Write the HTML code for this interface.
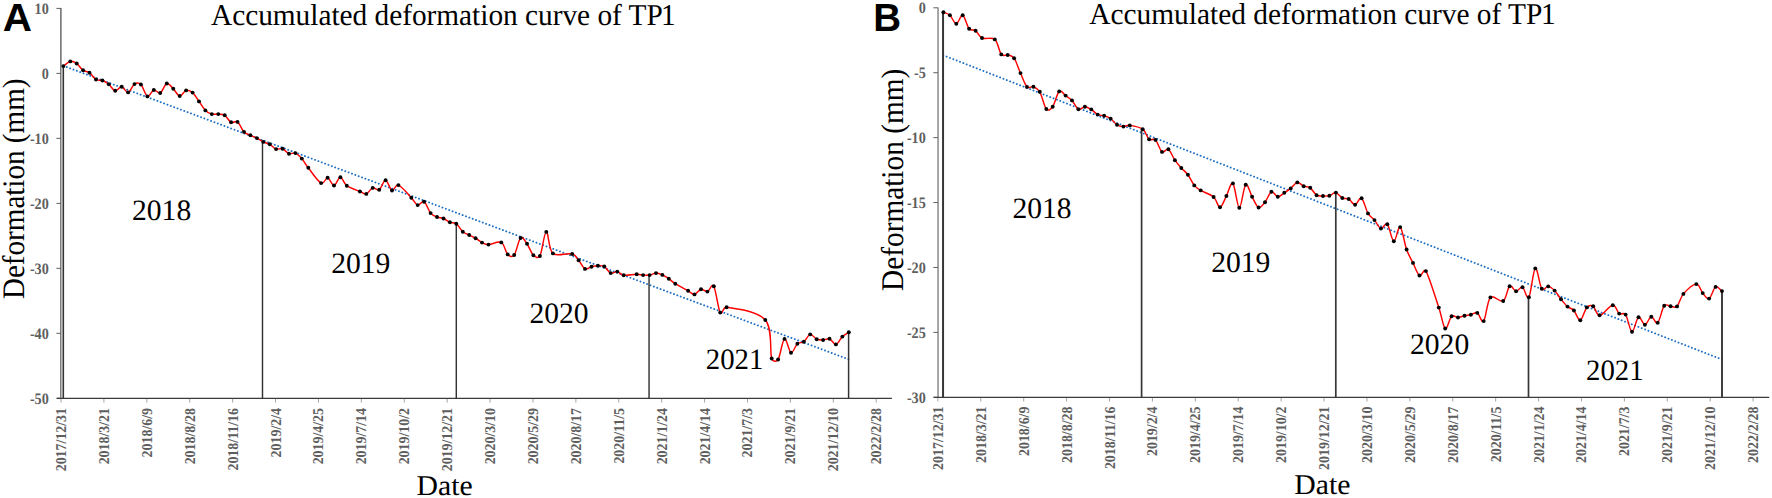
<!DOCTYPE html>
<html><head><meta charset="utf-8"><title>Accumulated deformation curve of TP1</title>
<style>
html,body{margin:0;padding:0;background:#fff;}
svg{display:block}
text{font-family:"Liberation Serif",serif;fill:#000;text-rendering:geometricPrecision}
.yl,.xl{font-weight:bold;fill:#5e5e5e}
.yr{font-size:29.6px}
.ti{font-size:30.2px}
.da{font-size:28.6px}
.pl{font-family:"Liberation Sans",sans-serif;font-weight:bold;font-size:39.3px}
</style></head><body>
<svg width="1772" height="498" viewBox="0 0 1772 498">
<rect width="1772" height="498" fill="#fff"/>
<line x1="60.65" y1="8.0" x2="60.65" y2="398.3" stroke="#7d7d7d" stroke-width="1.3"/>
<rect x="61.2" y="8.0" width="0.7" height="59.5" fill="#8a8a8a"/>
<rect x="61.2" y="67.5" width="1.5999999999999943" height="330.8" fill="#b4b4b4"/>
<line x1="56.4" y1="8.40" x2="61.0" y2="8.40" stroke="#606060" stroke-width="1"/>
<text class="yl" transform="translate(48.8,8.50) scale(1,1.12)" y="4.80" font-size="14.2" text-anchor="end">10</text>
<line x1="56.4" y1="73.38" x2="61.0" y2="73.38" stroke="#606060" stroke-width="1"/>
<text class="yl" transform="translate(48.8,73.48) scale(1,1.12)" y="4.80" font-size="14.2" text-anchor="end">0</text>
<line x1="56.4" y1="138.37" x2="61.0" y2="138.37" stroke="#606060" stroke-width="1"/>
<text class="yl" transform="translate(48.8,138.47) scale(1,1.12)" y="4.80" font-size="14.2" text-anchor="end">-10</text>
<line x1="56.4" y1="203.35" x2="61.0" y2="203.35" stroke="#606060" stroke-width="1"/>
<text class="yl" transform="translate(48.8,203.45) scale(1,1.12)" y="4.80" font-size="14.2" text-anchor="end">-20</text>
<line x1="56.4" y1="268.33" x2="61.0" y2="268.33" stroke="#606060" stroke-width="1"/>
<text class="yl" transform="translate(48.8,268.43) scale(1,1.12)" y="4.80" font-size="14.2" text-anchor="end">-30</text>
<line x1="56.4" y1="333.32" x2="61.0" y2="333.32" stroke="#606060" stroke-width="1"/>
<text class="yl" transform="translate(48.8,333.42) scale(1,1.12)" y="4.80" font-size="14.2" text-anchor="end">-40</text>
<line x1="56.4" y1="398.30" x2="61.0" y2="398.30" stroke="#606060" stroke-width="1"/>
<text class="yl" transform="translate(48.8,398.40) scale(1,1.12)" y="4.80" font-size="14.2" text-anchor="end">-50</text>
<line x1="56.8" y1="398.35" x2="891.9" y2="398.35" stroke="#3a3a3a" stroke-width="1.4"/>
<line x1="61.00" y1="398.90000000000003" x2="61.00" y2="402.5" stroke="#999999" stroke-width="0.9"/>
<text class="xl" transform="translate(66.00,408.0) rotate(-90) scale(1,1.08)" font-size="13.9" text-anchor="end">2017/12/31</text>
<line x1="103.91" y1="398.90000000000003" x2="103.91" y2="402.5" stroke="#999999" stroke-width="0.9"/>
<text class="xl" transform="translate(108.91,408.0) rotate(-90) scale(1,1.08)" font-size="13.9" text-anchor="end">2018/3/21</text>
<line x1="146.81" y1="398.90000000000003" x2="146.81" y2="402.5" stroke="#999999" stroke-width="0.9"/>
<text class="xl" transform="translate(151.81,408.0) rotate(-90) scale(1,1.08)" font-size="13.9" text-anchor="end">2018/6/9</text>
<line x1="189.72" y1="398.90000000000003" x2="189.72" y2="402.5" stroke="#999999" stroke-width="0.9"/>
<text class="xl" transform="translate(194.72,408.0) rotate(-90) scale(1,1.08)" font-size="13.9" text-anchor="end">2018/8/28</text>
<line x1="232.62" y1="398.90000000000003" x2="232.62" y2="402.5" stroke="#999999" stroke-width="0.9"/>
<text class="xl" transform="translate(237.62,408.0) rotate(-90) scale(1,1.08)" font-size="13.9" text-anchor="end">2018/11/16</text>
<line x1="275.52" y1="398.90000000000003" x2="275.52" y2="402.5" stroke="#999999" stroke-width="0.9"/>
<text class="xl" transform="translate(280.52,408.0) rotate(-90) scale(1,1.08)" font-size="13.9" text-anchor="end">2019/2/4</text>
<line x1="318.43" y1="398.90000000000003" x2="318.43" y2="402.5" stroke="#999999" stroke-width="0.9"/>
<text class="xl" transform="translate(323.43,408.0) rotate(-90) scale(1,1.08)" font-size="13.9" text-anchor="end">2019/4/25</text>
<line x1="361.34" y1="398.90000000000003" x2="361.34" y2="402.5" stroke="#999999" stroke-width="0.9"/>
<text class="xl" transform="translate(366.34,408.0) rotate(-90) scale(1,1.08)" font-size="13.9" text-anchor="end">2019/7/14</text>
<line x1="404.24" y1="398.90000000000003" x2="404.24" y2="402.5" stroke="#999999" stroke-width="0.9"/>
<text class="xl" transform="translate(409.24,408.0) rotate(-90) scale(1,1.08)" font-size="13.9" text-anchor="end">2019/10/2</text>
<line x1="447.14" y1="398.90000000000003" x2="447.14" y2="402.5" stroke="#999999" stroke-width="0.9"/>
<text class="xl" transform="translate(452.14,408.0) rotate(-90) scale(1,1.08)" font-size="13.9" text-anchor="end">2019/12/21</text>
<line x1="490.05" y1="398.90000000000003" x2="490.05" y2="402.5" stroke="#999999" stroke-width="0.9"/>
<text class="xl" transform="translate(495.05,408.0) rotate(-90) scale(1,1.08)" font-size="13.9" text-anchor="end">2020/3/10</text>
<line x1="532.96" y1="398.90000000000003" x2="532.96" y2="402.5" stroke="#999999" stroke-width="0.9"/>
<text class="xl" transform="translate(537.96,408.0) rotate(-90) scale(1,1.08)" font-size="13.9" text-anchor="end">2020/5/29</text>
<line x1="575.86" y1="398.90000000000003" x2="575.86" y2="402.5" stroke="#999999" stroke-width="0.9"/>
<text class="xl" transform="translate(580.86,408.0) rotate(-90) scale(1,1.08)" font-size="13.9" text-anchor="end">2020/8/17</text>
<line x1="618.76" y1="398.90000000000003" x2="618.76" y2="402.5" stroke="#999999" stroke-width="0.9"/>
<text class="xl" transform="translate(623.76,408.0) rotate(-90) scale(1,1.08)" font-size="13.9" text-anchor="end">2020/11/5</text>
<line x1="661.67" y1="398.90000000000003" x2="661.67" y2="402.5" stroke="#999999" stroke-width="0.9"/>
<text class="xl" transform="translate(666.67,408.0) rotate(-90) scale(1,1.08)" font-size="13.9" text-anchor="end">2021/1/24</text>
<line x1="704.58" y1="398.90000000000003" x2="704.58" y2="402.5" stroke="#999999" stroke-width="0.9"/>
<text class="xl" transform="translate(709.58,408.0) rotate(-90) scale(1,1.08)" font-size="13.9" text-anchor="end">2021/4/14</text>
<line x1="747.48" y1="398.90000000000003" x2="747.48" y2="402.5" stroke="#999999" stroke-width="0.9"/>
<text class="xl" transform="translate(752.48,408.0) rotate(-90) scale(1,1.08)" font-size="13.9" text-anchor="end">2021/7/3</text>
<line x1="790.38" y1="398.90000000000003" x2="790.38" y2="402.5" stroke="#999999" stroke-width="0.9"/>
<text class="xl" transform="translate(795.38,408.0) rotate(-90) scale(1,1.08)" font-size="13.9" text-anchor="end">2021/9/21</text>
<line x1="833.29" y1="398.90000000000003" x2="833.29" y2="402.5" stroke="#999999" stroke-width="0.9"/>
<text class="xl" transform="translate(838.29,408.0) rotate(-90) scale(1,1.08)" font-size="13.9" text-anchor="end">2021/12/10</text>
<line x1="876.20" y1="398.90000000000003" x2="876.20" y2="402.5" stroke="#999999" stroke-width="0.9"/>
<text class="xl" transform="translate(881.20,408.0) rotate(-90) scale(1,1.08)" font-size="13.9" text-anchor="end">2022/2/28</text>
<line x1="63.4" y1="65.8" x2="848.5" y2="359.3" stroke="#1f70c1" stroke-width="1.9" stroke-linecap="round" stroke-dasharray="0.05 3.5315"/>
<line x1="63.4" y1="66.1" x2="63.4" y2="398.3" stroke="#333333" stroke-width="1.4"/>
<line x1="262.5" y1="141.9" x2="262.5" y2="398.3" stroke="#333333" stroke-width="1.45"/>
<line x1="456.3" y1="223.7" x2="456.3" y2="398.3" stroke="#333333" stroke-width="1.45"/>
<line x1="649.05" y1="275.1" x2="649.05" y2="398.3" stroke="#333333" stroke-width="1.45"/>
<line x1="848.6" y1="332.2" x2="848.6" y2="398.3" stroke="#333333" stroke-width="1.5"/>
<path d="M63.40,66.10C65.18,64.89 68.08,61.83 70.30,61.40C72.52,60.97 74.57,62.02 76.70,63.50C78.83,64.98 80.97,68.77 83.10,70.30C85.23,71.83 87.35,71.17 89.50,72.70C91.65,74.23 93.85,78.20 96.00,79.50C98.15,80.80 100.27,79.70 102.40,80.50C104.53,81.30 106.67,82.58 108.80,84.30C110.93,86.02 113.05,90.40 115.20,90.80C117.35,91.20 119.55,86.43 121.70,86.70C123.85,86.97 125.97,92.83 128.10,92.40C130.23,91.97 132.37,85.42 134.50,84.10C136.63,82.78 138.75,82.45 140.90,84.50C143.05,86.55 145.25,95.48 147.40,96.40C149.55,97.32 151.67,90.57 153.80,90.00C155.93,89.43 158.03,94.08 160.20,93.00C162.37,91.92 164.62,84.20 166.80,83.50C168.98,82.80 171.15,86.72 173.30,88.80C175.45,90.88 177.57,95.73 179.70,96.00C181.83,96.27 183.95,90.97 186.10,90.40C188.25,89.83 190.45,90.77 192.60,92.60C194.75,94.43 196.87,98.43 199.00,101.40C201.13,104.37 203.27,108.28 205.40,110.40C207.53,112.52 209.65,113.48 211.80,114.10C213.95,114.72 216.15,113.90 218.30,114.10C220.45,114.30 222.57,113.93 224.70,115.30C226.83,116.67 228.97,121.20 231.10,122.30C233.23,123.40 235.35,120.30 237.50,121.90C239.65,123.50 241.85,129.67 244.00,131.90C246.15,134.13 248.25,134.27 250.40,135.30C252.55,136.33 254.75,137.00 256.90,138.10C259.05,139.20 261.17,140.87 263.30,141.90C265.43,142.93 267.57,143.10 269.70,144.30C271.83,145.50 273.95,148.37 276.10,149.10C278.25,149.83 280.45,147.93 282.60,148.70C284.75,149.47 286.87,152.97 289.00,153.70C291.13,154.43 293.27,152.28 295.40,153.10C297.53,153.92 299.65,156.15 301.80,158.60C303.95,161.05 305.08,163.72 308.30,167.80C311.52,171.88 317.55,181.26 321.10,183.10C324.32,184.77 325.45,177.40 327.60,177.80C329.75,178.20 331.87,185.60 334.00,185.50C336.13,185.40 338.27,177.17 340.40,177.20C342.53,177.23 343.55,183.32 346.80,185.70C350.10,188.12 356.13,189.91 359.90,191.50C363.05,192.82 364.17,194.50 366.30,193.90C368.43,193.30 370.55,188.60 372.70,187.90C374.85,187.20 377.05,190.98 379.20,189.70C381.35,188.42 383.47,180.07 385.60,180.20C387.73,180.33 389.87,189.68 392.00,190.50C394.13,191.32 395.18,183.90 398.40,185.10C402.18,186.51 408.08,194.37 411.30,197.70C414.52,201.03 415.57,204.43 417.70,205.10C419.83,205.77 421.95,200.37 424.10,201.70C426.25,203.03 428.45,210.55 430.60,213.10C432.75,215.65 434.85,216.10 437.00,217.00C439.15,217.90 441.35,217.62 443.50,218.50C445.65,219.38 447.77,221.43 449.90,222.30C452.03,223.17 454.15,222.13 456.30,223.70C458.45,225.27 460.65,229.82 462.80,231.70C464.95,233.58 467.07,233.92 469.20,235.00C471.33,236.08 473.47,236.93 475.60,238.20C477.73,239.47 479.85,241.53 482.00,242.60C484.15,243.67 485.28,244.63 488.50,244.60C492.50,244.56 497.74,240.58 501.30,242.40C504.50,244.03 505.55,252.30 507.70,254.40C509.85,256.50 512.18,257.57 514.20,255.00C516.35,252.27 518.47,239.87 520.60,238.00C522.73,236.13 524.87,240.93 527.00,243.80C529.13,246.67 531.25,253.17 533.40,255.20C535.55,257.23 538.31,258.86 539.90,256.00C542.05,252.12 544.13,232.33 546.30,231.90C548.47,231.47 548.58,249.72 552.90,253.40C557.49,257.31 566.38,252.44 572.20,254.00C576.48,255.15 576.47,257.82 578.60,260.30C580.73,262.78 582.85,267.83 585.00,268.90C587.15,269.97 589.35,267.23 591.50,266.70C593.65,266.17 595.77,265.73 597.90,265.70C600.03,265.67 602.17,265.27 604.30,266.50C606.43,267.73 608.53,272.25 610.70,273.10C612.87,273.95 615.13,271.25 617.30,271.60C619.47,271.95 620.47,274.75 623.70,275.20C627.72,275.76 632.64,274.32 636.70,274.30C639.92,274.28 640.95,274.97 643.10,275.10C645.25,275.23 647.45,275.43 649.60,275.10C651.75,274.77 653.87,273.13 656.00,273.10C658.13,273.07 660.27,273.97 662.40,274.90C664.53,275.83 666.65,277.23 668.80,278.70C670.95,280.17 672.08,281.68 675.30,283.70C678.69,285.82 684.61,288.85 688.10,290.80C691.30,292.58 692.35,294.67 694.50,294.40C696.65,294.13 698.85,289.67 701.00,289.20C703.15,288.73 705.27,292.08 707.40,291.60C709.53,291.12 711.67,282.80 713.80,286.30C715.93,289.80 718.07,309.10 720.20,312.60C722.33,316.10 722.50,306.63 726.60,307.30C738.53,309.26 757.31,310.92 765.30,320.00C772.82,328.53 769.57,351.92 771.70,358.50C772.70,361.58 776.33,362.21 778.10,359.50C780.23,356.23 782.35,340.03 784.50,338.90C786.65,337.77 788.85,351.90 791.00,352.70C793.15,353.50 795.27,345.52 797.40,343.70C799.53,341.88 801.67,343.35 803.80,341.80C805.93,340.25 808.05,334.83 810.20,334.40C812.35,333.97 814.55,338.27 816.70,339.20C818.85,340.13 820.97,340.07 823.10,340.00C825.23,339.93 827.37,338.07 829.50,338.80C831.63,339.53 833.75,344.77 835.90,344.40C838.05,344.03 840.25,338.63 842.40,336.60C844.55,334.57 847.15,333.33 848.80,332.20" fill="none" stroke="#ff0000" stroke-width="1.45" stroke-linejoin="round"/>
<g fill="#000"><circle cx="63.4" cy="66.1" r="1.95"/><circle cx="70.3" cy="61.4" r="1.95"/><circle cx="76.7" cy="63.5" r="1.95"/><circle cx="83.1" cy="70.3" r="1.95"/><circle cx="89.5" cy="72.7" r="1.95"/><circle cx="96.0" cy="79.5" r="1.95"/><circle cx="102.4" cy="80.5" r="1.95"/><circle cx="108.8" cy="84.3" r="1.95"/><circle cx="115.2" cy="90.8" r="1.95"/><circle cx="121.7" cy="86.7" r="1.95"/><circle cx="128.1" cy="92.4" r="1.95"/><circle cx="134.5" cy="84.1" r="1.95"/><circle cx="140.9" cy="84.5" r="1.95"/><circle cx="147.4" cy="96.4" r="1.95"/><circle cx="153.8" cy="90.0" r="1.95"/><circle cx="160.2" cy="93.0" r="1.95"/><circle cx="166.8" cy="83.5" r="1.95"/><circle cx="173.3" cy="88.8" r="1.95"/><circle cx="179.7" cy="96.0" r="1.95"/><circle cx="186.1" cy="90.4" r="1.95"/><circle cx="192.6" cy="92.6" r="1.95"/><circle cx="199.0" cy="101.4" r="1.95"/><circle cx="205.4" cy="110.4" r="1.95"/><circle cx="211.8" cy="114.1" r="1.95"/><circle cx="218.3" cy="114.1" r="1.95"/><circle cx="224.7" cy="115.3" r="1.95"/><circle cx="231.1" cy="122.3" r="1.95"/><circle cx="237.5" cy="121.9" r="1.95"/><circle cx="244.0" cy="131.9" r="1.95"/><circle cx="250.4" cy="135.3" r="1.95"/><circle cx="256.9" cy="138.1" r="1.95"/><circle cx="263.3" cy="141.9" r="1.95"/><circle cx="269.7" cy="144.3" r="1.95"/><circle cx="276.1" cy="149.1" r="1.95"/><circle cx="282.6" cy="148.7" r="1.95"/><circle cx="289.0" cy="153.7" r="1.95"/><circle cx="295.4" cy="153.1" r="1.95"/><circle cx="301.8" cy="158.6" r="1.95"/><circle cx="308.3" cy="167.8" r="1.95"/><circle cx="321.1" cy="183.1" r="1.95"/><circle cx="327.6" cy="177.8" r="1.95"/><circle cx="334.0" cy="185.5" r="1.95"/><circle cx="340.4" cy="177.2" r="1.95"/><circle cx="346.8" cy="185.7" r="1.95"/><circle cx="359.9" cy="191.5" r="1.95"/><circle cx="366.3" cy="193.9" r="1.95"/><circle cx="372.7" cy="187.9" r="1.95"/><circle cx="379.2" cy="189.7" r="1.95"/><circle cx="385.6" cy="180.2" r="1.95"/><circle cx="392.0" cy="190.5" r="1.95"/><circle cx="398.4" cy="185.1" r="1.95"/><circle cx="411.3" cy="197.7" r="1.95"/><circle cx="417.7" cy="205.1" r="1.95"/><circle cx="424.1" cy="201.7" r="1.95"/><circle cx="430.6" cy="213.1" r="1.95"/><circle cx="437.0" cy="217.0" r="1.95"/><circle cx="443.5" cy="218.5" r="1.95"/><circle cx="449.9" cy="222.3" r="1.95"/><circle cx="456.3" cy="223.7" r="1.95"/><circle cx="462.8" cy="231.7" r="1.95"/><circle cx="469.2" cy="235.0" r="1.95"/><circle cx="475.6" cy="238.2" r="1.95"/><circle cx="482.0" cy="242.6" r="1.95"/><circle cx="488.5" cy="244.6" r="1.95"/><circle cx="501.3" cy="242.4" r="1.95"/><circle cx="507.7" cy="254.4" r="1.95"/><circle cx="514.2" cy="255.0" r="1.95"/><circle cx="520.6" cy="238.0" r="1.95"/><circle cx="527.0" cy="243.8" r="1.95"/><circle cx="533.4" cy="255.2" r="1.95"/><circle cx="539.9" cy="256.0" r="1.95"/><circle cx="546.3" cy="231.9" r="1.95"/><circle cx="552.9" cy="253.4" r="1.95"/><circle cx="572.2" cy="254.0" r="1.95"/><circle cx="578.6" cy="260.3" r="1.95"/><circle cx="585.0" cy="268.9" r="1.95"/><circle cx="591.5" cy="266.7" r="1.95"/><circle cx="597.9" cy="265.7" r="1.95"/><circle cx="604.3" cy="266.5" r="1.95"/><circle cx="610.7" cy="273.1" r="1.95"/><circle cx="617.3" cy="271.6" r="1.95"/><circle cx="623.7" cy="275.2" r="1.95"/><circle cx="636.7" cy="274.3" r="1.95"/><circle cx="643.1" cy="275.1" r="1.95"/><circle cx="649.6" cy="275.1" r="1.95"/><circle cx="656.0" cy="273.1" r="1.95"/><circle cx="662.4" cy="274.9" r="1.95"/><circle cx="668.8" cy="278.7" r="1.95"/><circle cx="675.3" cy="283.7" r="1.95"/><circle cx="688.1" cy="290.8" r="1.95"/><circle cx="694.5" cy="294.4" r="1.95"/><circle cx="701.0" cy="289.2" r="1.95"/><circle cx="707.4" cy="291.6" r="1.95"/><circle cx="713.8" cy="286.3" r="1.95"/><circle cx="720.2" cy="312.6" r="1.95"/><circle cx="726.6" cy="307.3" r="1.95"/><circle cx="765.3" cy="320.0" r="1.95"/><circle cx="771.7" cy="358.5" r="1.95"/><circle cx="778.1" cy="359.5" r="1.95"/><circle cx="784.5" cy="338.9" r="1.95"/><circle cx="791.0" cy="352.7" r="1.95"/><circle cx="797.4" cy="343.7" r="1.95"/><circle cx="803.8" cy="341.8" r="1.95"/><circle cx="810.2" cy="334.4" r="1.95"/><circle cx="816.7" cy="339.2" r="1.95"/><circle cx="823.1" cy="340.0" r="1.95"/><circle cx="829.5" cy="338.8" r="1.95"/><circle cx="835.9" cy="344.4" r="1.95"/><circle cx="842.4" cy="336.6" r="1.95"/><circle cx="848.8" cy="332.2" r="1.95"/></g>
<text class="yr" transform="translate(132.0,220) scale(1,1)">2018</text>
<text class="yr" transform="translate(331.2,273) scale(1,1)">2019</text>
<text class="yr" transform="translate(529.4,323) scale(1,1)">2020</text>
<text class="yr" transform="translate(705.8,369) scale(0.972,1)">2021</text>
<text class="ti" transform="translate(211.0,25) scale(0.9705,1)">Accumulated deformation curve of TP<tspan dx="-1.8">1</tspan></text>
<text class="ya" font-size="29.1" transform="translate(24.2,299.1) rotate(-90) scale(1,1.075)">Deformation (mm)</text>
<text class="da" transform="translate(416.5,495) scale(1.04,1)">Date</text>
<text class="pl" transform="translate(2.7,31.3) scale(1.03,1)">A</text>
<line x1="938.05" y1="7.3999999999999995" x2="938.05" y2="397.3" stroke="#a2a2a2" stroke-width="1.9"/>
<line x1="933.3" y1="7.80" x2="937.9" y2="7.80" stroke="#606060" stroke-width="1"/>
<text class="yl" transform="translate(925.8,7.90) scale(1,1.12)" y="4.80" font-size="14.2" text-anchor="end">0</text>
<line x1="933.3" y1="72.72" x2="937.9" y2="72.72" stroke="#606060" stroke-width="1"/>
<text class="yl" transform="translate(925.8,72.82) scale(1,1.12)" y="4.80" font-size="14.2" text-anchor="end">-5</text>
<line x1="933.3" y1="137.63" x2="937.9" y2="137.63" stroke="#606060" stroke-width="1"/>
<text class="yl" transform="translate(925.8,137.73) scale(1,1.12)" y="4.80" font-size="14.2" text-anchor="end">-10</text>
<line x1="933.3" y1="202.55" x2="937.9" y2="202.55" stroke="#606060" stroke-width="1"/>
<text class="yl" transform="translate(925.8,202.65) scale(1,1.12)" y="4.80" font-size="14.2" text-anchor="end">-15</text>
<line x1="933.3" y1="267.47" x2="937.9" y2="267.47" stroke="#606060" stroke-width="1"/>
<text class="yl" transform="translate(925.8,267.57) scale(1,1.12)" y="4.80" font-size="14.2" text-anchor="end">-20</text>
<line x1="933.3" y1="332.38" x2="937.9" y2="332.38" stroke="#606060" stroke-width="1"/>
<text class="yl" transform="translate(925.8,332.48) scale(1,1.12)" y="4.80" font-size="14.2" text-anchor="end">-25</text>
<line x1="933.3" y1="397.30" x2="937.9" y2="397.30" stroke="#606060" stroke-width="1"/>
<text class="yl" transform="translate(925.8,397.40) scale(1,1.12)" y="4.80" font-size="14.2" text-anchor="end">-30</text>
<line x1="933.6999999999999" y1="397.35" x2="1769.2" y2="397.35" stroke="#3a3a3a" stroke-width="1.4"/>
<line x1="937.90" y1="397.90000000000003" x2="937.90" y2="401.5" stroke="#999999" stroke-width="0.9"/>
<text class="xl" transform="translate(942.90,406.59999999999997) rotate(-90) scale(1,1.08)" font-size="13.9" text-anchor="end">2017/12/31</text>
<line x1="980.80" y1="397.90000000000003" x2="980.80" y2="401.5" stroke="#999999" stroke-width="0.9"/>
<text class="xl" transform="translate(985.80,406.59999999999997) rotate(-90) scale(1,1.08)" font-size="13.9" text-anchor="end">2018/3/21</text>
<line x1="1023.71" y1="397.90000000000003" x2="1023.71" y2="401.5" stroke="#999999" stroke-width="0.9"/>
<text class="xl" transform="translate(1028.71,406.59999999999997) rotate(-90) scale(1,1.08)" font-size="13.9" text-anchor="end">2018/6/9</text>
<line x1="1066.62" y1="397.90000000000003" x2="1066.62" y2="401.5" stroke="#999999" stroke-width="0.9"/>
<text class="xl" transform="translate(1071.62,406.59999999999997) rotate(-90) scale(1,1.08)" font-size="13.9" text-anchor="end">2018/8/28</text>
<line x1="1109.52" y1="397.90000000000003" x2="1109.52" y2="401.5" stroke="#999999" stroke-width="0.9"/>
<text class="xl" transform="translate(1114.52,406.59999999999997) rotate(-90) scale(1,1.08)" font-size="13.9" text-anchor="end">2018/11/16</text>
<line x1="1152.42" y1="397.90000000000003" x2="1152.42" y2="401.5" stroke="#999999" stroke-width="0.9"/>
<text class="xl" transform="translate(1157.42,406.59999999999997) rotate(-90) scale(1,1.08)" font-size="13.9" text-anchor="end">2019/2/4</text>
<line x1="1195.33" y1="397.90000000000003" x2="1195.33" y2="401.5" stroke="#999999" stroke-width="0.9"/>
<text class="xl" transform="translate(1200.33,406.59999999999997) rotate(-90) scale(1,1.08)" font-size="13.9" text-anchor="end">2019/4/25</text>
<line x1="1238.24" y1="397.90000000000003" x2="1238.24" y2="401.5" stroke="#999999" stroke-width="0.9"/>
<text class="xl" transform="translate(1243.24,406.59999999999997) rotate(-90) scale(1,1.08)" font-size="13.9" text-anchor="end">2019/7/14</text>
<line x1="1281.14" y1="397.90000000000003" x2="1281.14" y2="401.5" stroke="#999999" stroke-width="0.9"/>
<text class="xl" transform="translate(1286.14,406.59999999999997) rotate(-90) scale(1,1.08)" font-size="13.9" text-anchor="end">2019/10/2</text>
<line x1="1324.05" y1="397.90000000000003" x2="1324.05" y2="401.5" stroke="#999999" stroke-width="0.9"/>
<text class="xl" transform="translate(1329.05,406.59999999999997) rotate(-90) scale(1,1.08)" font-size="13.9" text-anchor="end">2019/12/21</text>
<line x1="1366.95" y1="397.90000000000003" x2="1366.95" y2="401.5" stroke="#999999" stroke-width="0.9"/>
<text class="xl" transform="translate(1371.95,406.59999999999997) rotate(-90) scale(1,1.08)" font-size="13.9" text-anchor="end">2020/3/10</text>
<line x1="1409.86" y1="397.90000000000003" x2="1409.86" y2="401.5" stroke="#999999" stroke-width="0.9"/>
<text class="xl" transform="translate(1414.86,406.59999999999997) rotate(-90) scale(1,1.08)" font-size="13.9" text-anchor="end">2020/5/29</text>
<line x1="1452.76" y1="397.90000000000003" x2="1452.76" y2="401.5" stroke="#999999" stroke-width="0.9"/>
<text class="xl" transform="translate(1457.76,406.59999999999997) rotate(-90) scale(1,1.08)" font-size="13.9" text-anchor="end">2020/8/17</text>
<line x1="1495.66" y1="397.90000000000003" x2="1495.66" y2="401.5" stroke="#999999" stroke-width="0.9"/>
<text class="xl" transform="translate(1500.66,406.59999999999997) rotate(-90) scale(1,1.08)" font-size="13.9" text-anchor="end">2020/11/5</text>
<line x1="1538.57" y1="397.90000000000003" x2="1538.57" y2="401.5" stroke="#999999" stroke-width="0.9"/>
<text class="xl" transform="translate(1543.57,406.59999999999997) rotate(-90) scale(1,1.08)" font-size="13.9" text-anchor="end">2021/1/24</text>
<line x1="1581.47" y1="397.90000000000003" x2="1581.47" y2="401.5" stroke="#999999" stroke-width="0.9"/>
<text class="xl" transform="translate(1586.47,406.59999999999997) rotate(-90) scale(1,1.08)" font-size="13.9" text-anchor="end">2021/4/14</text>
<line x1="1624.38" y1="397.90000000000003" x2="1624.38" y2="401.5" stroke="#999999" stroke-width="0.9"/>
<text class="xl" transform="translate(1629.38,406.59999999999997) rotate(-90) scale(1,1.08)" font-size="13.9" text-anchor="end">2021/7/3</text>
<line x1="1667.28" y1="397.90000000000003" x2="1667.28" y2="401.5" stroke="#999999" stroke-width="0.9"/>
<text class="xl" transform="translate(1672.28,406.59999999999997) rotate(-90) scale(1,1.08)" font-size="13.9" text-anchor="end">2021/9/21</text>
<line x1="1710.19" y1="397.90000000000003" x2="1710.19" y2="401.5" stroke="#999999" stroke-width="0.9"/>
<text class="xl" transform="translate(1715.19,406.59999999999997) rotate(-90) scale(1,1.08)" font-size="13.9" text-anchor="end">2021/12/10</text>
<line x1="1753.10" y1="397.90000000000003" x2="1753.10" y2="401.5" stroke="#999999" stroke-width="0.9"/>
<text class="xl" transform="translate(1758.10,406.59999999999997) rotate(-90) scale(1,1.08)" font-size="13.9" text-anchor="end">2022/2/28</text>
<line x1="943.25" y1="55.26" x2="1721.97" y2="359.54" stroke="#1f70c1" stroke-width="1.9" stroke-linecap="round" stroke-dasharray="0.05 3.538"/>
<line x1="943.05" y1="12.2" x2="943.05" y2="397.3" stroke="#363636" stroke-width="2.0"/>
<line x1="1141.6" y1="129.2" x2="1141.6" y2="397.3" stroke="#363636" stroke-width="1.7"/>
<line x1="1335.8" y1="192.6" x2="1335.8" y2="397.3" stroke="#363636" stroke-width="1.7"/>
<line x1="1528.5" y1="297.2" x2="1528.5" y2="397.3" stroke="#363636" stroke-width="1.7"/>
<line x1="1722.0" y1="291.1" x2="1722.0" y2="397.3" stroke="#363636" stroke-width="1.9"/>
<path d="M943.40,12.20C945.23,13.07 947.75,13.38 949.90,15.30C952.05,17.22 954.17,23.70 956.30,23.70C958.43,23.70 960.57,14.47 962.70,15.30C964.83,16.13 966.95,26.13 969.10,28.70C971.25,31.27 973.45,29.15 975.60,30.70C977.75,32.25 978.80,36.55 982.00,38.00C985.64,39.65 991.58,36.67 994.80,39.40C998.02,42.13 999.15,51.80 1001.30,54.40C1003.35,56.88 1005.57,54.37 1007.70,55.00C1009.83,55.63 1012.03,55.28 1014.10,58.20C1016.23,61.22 1018.35,68.32 1020.50,73.10C1022.65,77.88 1024.85,84.62 1027.00,86.90C1029.15,89.18 1031.27,85.98 1033.40,86.80C1035.53,87.62 1037.76,88.29 1039.80,91.80C1041.95,95.50 1044.15,106.52 1046.30,109.00C1048.45,111.48 1050.69,109.44 1052.70,106.70C1054.85,103.77 1057.05,93.25 1059.20,91.40C1061.35,89.55 1063.47,94.10 1065.60,95.60C1067.73,97.10 1069.87,98.13 1072.00,100.40C1074.13,102.67 1076.25,108.15 1078.40,109.20C1080.55,110.25 1082.75,106.67 1084.90,106.70C1087.05,106.73 1089.17,108.08 1091.30,109.40C1093.43,110.72 1095.57,113.53 1097.70,114.60C1099.83,115.67 1101.95,115.13 1104.10,115.80C1106.25,116.47 1108.45,117.10 1110.60,118.60C1112.75,120.10 1114.87,123.47 1117.00,124.80C1119.13,126.13 1121.27,126.50 1123.40,126.60C1125.53,126.70 1126.58,124.97 1129.80,125.40C1133.80,125.94 1139.43,126.84 1142.70,129.20C1145.92,131.52 1146.97,137.52 1149.10,139.30C1151.23,141.08 1153.35,137.80 1155.50,139.90C1157.65,142.00 1159.85,150.33 1162.00,151.90C1164.15,153.47 1166.25,147.92 1168.40,149.30C1170.55,150.68 1172.75,157.08 1174.90,160.20C1177.05,163.32 1179.13,165.58 1181.30,168.00C1183.47,170.42 1185.73,171.80 1187.90,174.70C1190.07,177.60 1192.17,182.78 1194.30,185.40C1196.43,188.02 1197.48,188.47 1200.70,190.40C1204.16,192.48 1210.38,194.18 1213.60,197.00C1216.82,199.82 1217.87,207.47 1220.00,207.30C1222.13,207.13 1224.25,199.98 1226.40,196.00C1228.55,192.02 1230.75,181.45 1232.90,183.40C1235.05,185.35 1237.17,207.47 1239.30,207.70C1241.43,207.93 1243.57,186.62 1245.70,184.80C1247.83,182.98 1249.95,193.02 1252.10,196.80C1254.25,200.58 1256.45,206.60 1258.60,207.50C1260.75,208.40 1262.87,204.82 1265.00,202.20C1267.13,199.58 1269.27,192.70 1271.40,191.80C1273.53,190.90 1275.65,196.63 1277.80,196.80C1279.95,196.97 1282.15,194.20 1284.30,192.80C1286.45,191.40 1288.53,190.13 1290.70,188.40C1292.87,186.67 1295.13,182.77 1297.30,182.40C1299.47,182.03 1301.55,185.30 1303.70,186.20C1305.85,187.10 1308.05,186.30 1310.20,187.80C1312.35,189.30 1314.47,193.83 1316.60,195.20C1318.73,196.57 1320.87,195.90 1323.00,196.00C1325.13,196.10 1327.25,196.37 1329.40,195.80C1331.55,195.23 1333.75,192.23 1335.90,192.60C1338.05,192.97 1340.17,196.93 1342.30,198.00C1344.43,199.07 1346.57,197.88 1348.70,199.00C1350.83,200.12 1352.95,204.82 1355.10,204.70C1357.25,204.58 1359.45,196.85 1361.60,198.30C1363.75,199.75 1365.85,209.77 1368.00,213.40C1370.15,217.03 1372.35,217.57 1374.50,220.10C1376.65,222.63 1378.77,227.90 1380.90,228.60C1383.03,229.30 1385.15,222.20 1387.30,224.30C1389.45,226.40 1391.65,240.73 1393.80,241.20C1395.95,241.67 1398.07,225.72 1400.20,227.10C1402.33,228.48 1404.47,243.53 1406.60,249.50C1408.73,255.47 1410.85,258.57 1413.00,262.90C1415.15,267.23 1417.35,274.13 1419.50,275.50C1421.65,276.87 1423.90,267.77 1425.90,271.10C1429.12,276.45 1435.58,298.03 1438.80,307.60C1442.02,317.17 1443.07,327.05 1445.20,328.50C1447.33,329.95 1449.47,318.13 1451.60,316.30C1453.73,314.47 1455.85,317.60 1458.00,317.50C1460.15,317.40 1462.35,316.17 1464.50,315.70C1466.65,315.23 1468.77,315.17 1470.90,314.70C1473.03,314.23 1475.17,311.83 1477.30,312.90C1479.43,313.97 1481.52,323.68 1483.70,321.10C1485.88,318.52 1487.15,300.75 1490.40,297.40C1493.65,294.05 1499.74,303.02 1503.20,301.00C1506.40,299.13 1507.45,287.83 1509.60,286.20C1511.75,284.57 1513.95,291.03 1516.10,291.20C1518.25,291.37 1520.37,286.20 1522.50,287.20C1524.63,288.20 1526.77,300.33 1528.90,297.20C1531.03,294.07 1533.15,269.80 1535.30,268.40C1537.45,267.00 1539.65,285.80 1541.80,288.80C1543.79,291.58 1546.07,286.10 1548.20,286.40C1550.33,286.70 1552.47,288.47 1554.60,290.60C1556.73,292.73 1558.85,296.53 1561.00,299.20C1563.15,301.87 1565.35,304.72 1567.50,306.60C1569.65,308.48 1571.77,308.22 1573.90,310.50C1576.03,312.78 1578.15,320.82 1580.30,320.30C1582.45,319.78 1584.65,309.75 1586.80,307.40C1588.95,305.05 1591.07,304.88 1593.20,306.20C1595.33,307.52 1596.33,315.47 1599.60,315.30C1603.72,315.09 1608.69,305.56 1612.80,305.20C1616.07,304.92 1617.07,312.03 1619.20,313.60C1621.33,315.17 1623.73,311.96 1625.60,314.60C1627.73,317.62 1629.85,331.27 1632.00,331.70C1634.15,332.13 1636.35,318.37 1638.50,317.20C1640.65,316.03 1642.77,324.77 1644.90,324.70C1647.03,324.63 1649.17,317.13 1651.30,316.80C1653.43,316.47 1655.55,324.53 1657.70,322.70C1659.85,320.87 1662.05,308.55 1664.20,305.80C1666.17,303.27 1668.47,306.10 1670.60,306.20C1672.73,306.30 1674.87,308.45 1677.00,306.40C1679.13,304.35 1680.18,297.62 1683.40,293.90C1686.62,290.18 1692.27,284.27 1696.30,284.10C1699.52,283.97 1700.57,290.68 1702.70,293.10C1704.83,295.52 1706.95,299.63 1709.10,298.60C1711.25,297.57 1713.45,288.15 1715.60,286.90C1717.75,285.65 1720.33,290.00 1722.00,291.10" fill="none" stroke="#ff0000" stroke-width="1.45" stroke-linejoin="round"/>
<g fill="#000"><circle cx="943.4" cy="12.2" r="1.95"/><circle cx="949.9" cy="15.3" r="1.95"/><circle cx="956.3" cy="23.7" r="1.95"/><circle cx="962.7" cy="15.3" r="1.95"/><circle cx="969.1" cy="28.7" r="1.95"/><circle cx="975.6" cy="30.7" r="1.95"/><circle cx="982.0" cy="38.0" r="1.95"/><circle cx="994.8" cy="39.4" r="1.95"/><circle cx="1001.3" cy="54.4" r="1.95"/><circle cx="1007.7" cy="55.0" r="1.95"/><circle cx="1014.1" cy="58.2" r="1.95"/><circle cx="1020.5" cy="73.1" r="1.95"/><circle cx="1027.0" cy="86.9" r="1.95"/><circle cx="1033.4" cy="86.8" r="1.95"/><circle cx="1039.8" cy="91.8" r="1.95"/><circle cx="1046.3" cy="109.0" r="1.95"/><circle cx="1052.7" cy="106.7" r="1.95"/><circle cx="1059.2" cy="91.4" r="1.95"/><circle cx="1065.6" cy="95.6" r="1.95"/><circle cx="1072.0" cy="100.4" r="1.95"/><circle cx="1078.4" cy="109.2" r="1.95"/><circle cx="1084.9" cy="106.7" r="1.95"/><circle cx="1091.3" cy="109.4" r="1.95"/><circle cx="1097.7" cy="114.6" r="1.95"/><circle cx="1104.1" cy="115.8" r="1.95"/><circle cx="1110.6" cy="118.6" r="1.95"/><circle cx="1117.0" cy="124.8" r="1.95"/><circle cx="1123.4" cy="126.6" r="1.95"/><circle cx="1129.8" cy="125.4" r="1.95"/><circle cx="1142.7" cy="129.2" r="1.95"/><circle cx="1149.1" cy="139.3" r="1.95"/><circle cx="1155.5" cy="139.9" r="1.95"/><circle cx="1162.0" cy="151.9" r="1.95"/><circle cx="1168.4" cy="149.3" r="1.95"/><circle cx="1174.9" cy="160.2" r="1.95"/><circle cx="1181.3" cy="168.0" r="1.95"/><circle cx="1187.9" cy="174.7" r="1.95"/><circle cx="1194.3" cy="185.4" r="1.95"/><circle cx="1200.7" cy="190.4" r="1.95"/><circle cx="1213.6" cy="197.0" r="1.95"/><circle cx="1220.0" cy="207.3" r="1.95"/><circle cx="1226.4" cy="196.0" r="1.95"/><circle cx="1232.9" cy="183.4" r="1.95"/><circle cx="1239.3" cy="207.7" r="1.95"/><circle cx="1245.7" cy="184.8" r="1.95"/><circle cx="1252.1" cy="196.8" r="1.95"/><circle cx="1258.6" cy="207.5" r="1.95"/><circle cx="1265.0" cy="202.2" r="1.95"/><circle cx="1271.4" cy="191.8" r="1.95"/><circle cx="1277.8" cy="196.8" r="1.95"/><circle cx="1284.3" cy="192.8" r="1.95"/><circle cx="1290.7" cy="188.4" r="1.95"/><circle cx="1297.3" cy="182.4" r="1.95"/><circle cx="1303.7" cy="186.2" r="1.95"/><circle cx="1310.2" cy="187.8" r="1.95"/><circle cx="1316.6" cy="195.2" r="1.95"/><circle cx="1323.0" cy="196.0" r="1.95"/><circle cx="1329.4" cy="195.8" r="1.95"/><circle cx="1335.9" cy="192.6" r="1.95"/><circle cx="1342.3" cy="198.0" r="1.95"/><circle cx="1348.7" cy="199.0" r="1.95"/><circle cx="1355.1" cy="204.7" r="1.95"/><circle cx="1361.6" cy="198.3" r="1.95"/><circle cx="1368.0" cy="213.4" r="1.95"/><circle cx="1374.5" cy="220.1" r="1.95"/><circle cx="1380.9" cy="228.6" r="1.95"/><circle cx="1387.3" cy="224.3" r="1.95"/><circle cx="1393.8" cy="241.2" r="1.95"/><circle cx="1400.2" cy="227.1" r="1.95"/><circle cx="1406.6" cy="249.5" r="1.95"/><circle cx="1413.0" cy="262.9" r="1.95"/><circle cx="1419.5" cy="275.5" r="1.95"/><circle cx="1425.9" cy="271.1" r="1.95"/><circle cx="1438.8" cy="307.6" r="1.95"/><circle cx="1445.2" cy="328.5" r="1.95"/><circle cx="1451.6" cy="316.3" r="1.95"/><circle cx="1458.0" cy="317.5" r="1.95"/><circle cx="1464.5" cy="315.7" r="1.95"/><circle cx="1470.9" cy="314.7" r="1.95"/><circle cx="1477.3" cy="312.9" r="1.95"/><circle cx="1483.7" cy="321.1" r="1.95"/><circle cx="1490.4" cy="297.4" r="1.95"/><circle cx="1503.2" cy="301.0" r="1.95"/><circle cx="1509.6" cy="286.2" r="1.95"/><circle cx="1516.1" cy="291.2" r="1.95"/><circle cx="1522.5" cy="287.2" r="1.95"/><circle cx="1528.9" cy="297.2" r="1.95"/><circle cx="1535.3" cy="268.4" r="1.95"/><circle cx="1541.8" cy="288.8" r="1.95"/><circle cx="1548.2" cy="286.4" r="1.95"/><circle cx="1554.6" cy="290.6" r="1.95"/><circle cx="1561.0" cy="299.2" r="1.95"/><circle cx="1567.5" cy="306.6" r="1.95"/><circle cx="1573.9" cy="310.5" r="1.95"/><circle cx="1580.3" cy="320.3" r="1.95"/><circle cx="1586.8" cy="307.4" r="1.95"/><circle cx="1593.2" cy="306.2" r="1.95"/><circle cx="1599.6" cy="315.3" r="1.95"/><circle cx="1612.8" cy="305.2" r="1.95"/><circle cx="1619.2" cy="313.6" r="1.95"/><circle cx="1625.6" cy="314.6" r="1.95"/><circle cx="1632.0" cy="331.7" r="1.95"/><circle cx="1638.5" cy="317.2" r="1.95"/><circle cx="1644.9" cy="324.7" r="1.95"/><circle cx="1651.3" cy="316.8" r="1.95"/><circle cx="1657.7" cy="322.7" r="1.95"/><circle cx="1664.2" cy="305.8" r="1.95"/><circle cx="1670.6" cy="306.2" r="1.95"/><circle cx="1677.0" cy="306.4" r="1.95"/><circle cx="1683.4" cy="293.9" r="1.95"/><circle cx="1696.3" cy="284.1" r="1.95"/><circle cx="1702.7" cy="293.1" r="1.95"/><circle cx="1709.1" cy="298.6" r="1.95"/><circle cx="1715.6" cy="286.9" r="1.95"/><circle cx="1722.0" cy="291.1" r="1.95"/></g>
<text class="yr" transform="translate(1012.4,218) scale(1,1)">2018</text>
<text class="yr" transform="translate(1211.2,272) scale(1,1)">2019</text>
<text class="yr" transform="translate(1410.0,354) scale(1,1)">2020</text>
<text class="yr" transform="translate(1586.1,380) scale(0.972,1)">2021</text>
<text class="ti" transform="translate(1089.2,24) scale(0.9735,1)">Accumulated deformation curve of TP<tspan dx="-1.3">1</tspan></text>
<text class="ya" font-size="29.33" transform="translate(902.9,291.0) rotate(-90) scale(1,1.075)">Deformation (mm)</text>
<text class="da" transform="translate(1294.3,494) scale(1.04,1)">Date</text>
<text class="pl" transform="translate(873.2,31.3) scale(0.98,1)">B</text>
</svg>
</body></html>
